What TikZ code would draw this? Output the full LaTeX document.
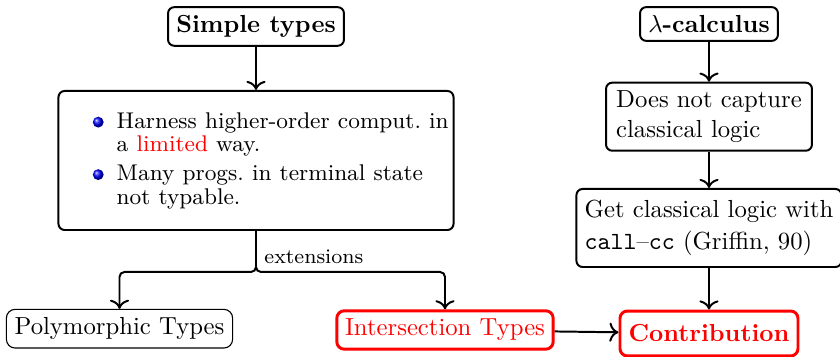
\documentclass[tikz,border=0pt]{standalone}
\usepackage{xcolor}
\usetikzlibrary{arrows.meta}
\newcommand{\blueball}{\tikz[baseline=-2.4pt]\shade[ball color=blue] (0,0) circle (2.2pt);}
\tikzset{
  box/.style={draw, thick, rounded corners=2.5pt, inner sep=3.33pt},
  polybox/.style={draw, line width=0.45pt, rounded corners=3.5pt, inner sep=3.33pt},
  redbox/.style={draw=red, line width=1.2pt, rounded corners=3pt, text=red, inner sep=3.33pt},
  conn/.style={-{To[scale=1.1]}, thick},
  lbl/.style={inner sep=0pt, font=\fontsize{8.4}{10}\selectfont},
}
\begin{document}
\begin{tikzpicture}[x=0.405pt, y=-0.405pt]
\useasboundingbox (0,0) rectangle (840,357);
% left column
\node[box, font=\bfseries] (simple) at (256,26.5) {Simple types};
\node[box, minimum width=160pt, minimum height=56.3pt, text width=160pt,
      inner sep=0pt, align=left] (big) at (256,160.5)
  {\fontsize{9.2}{9.5}\selectfont\leftskip=23.6pt\parindent=0pt
   \leavevmode\llap{\blueball\hspace{5.3pt}}Harness higher-order comput.\ in\\
   a \textcolor{red}{limited} way.\par
   \vspace{2.25pt}
   \leavevmode\llap{\blueball\hspace{5.3pt}}Many progs.\ in terminal state\\
   not typable.\par};
\node[polybox] (poly) at (119.5,328.7) {Polymorphic Types};
\node[redbox] (inter) at (445,330) {Intersection Types};
% right column
\node[box] (lambda) at (709,24) {\textbf{$\lambda$-calculus}};
\node[box, align=left, minimum width=83.4pt, minimum height=27.1pt] (does) at (709,116.7)
  {Does not capture\\classical logic};
\node[box, align=left, minimum height=31.6pt] (get) at (709,228)
  {Get classical logic with\\[1pt]\texttt{call}\textendash\texttt{cc} (Griffin, 90)};
\node[redbox, font=\bfseries, minimum width=72.1pt, minimum height=18.2pt] (contrib) at (709,333.5)
  {Contribution};
% connectors
\draw[conn] (simple) -- (big);
\coordinate (split) at ([yshift=-16.6pt]big.south);
\draw[conn, rounded corners=2pt] (big.south) -- (split) -| (poly.north);
\draw[conn, rounded corners=2pt] (big.south) -- (split) -| (inter.north);
\node[lbl, anchor=base west] (ext) at ([shift={(8,-8)}]split) {extensions};
\draw[conn] (lambda) -- (does);
\draw[conn] (does) -- (get);
\draw[conn] (get) -- (contrib);
\draw[conn] (inter) -- (contrib);
\end{tikzpicture}
\end{document}
